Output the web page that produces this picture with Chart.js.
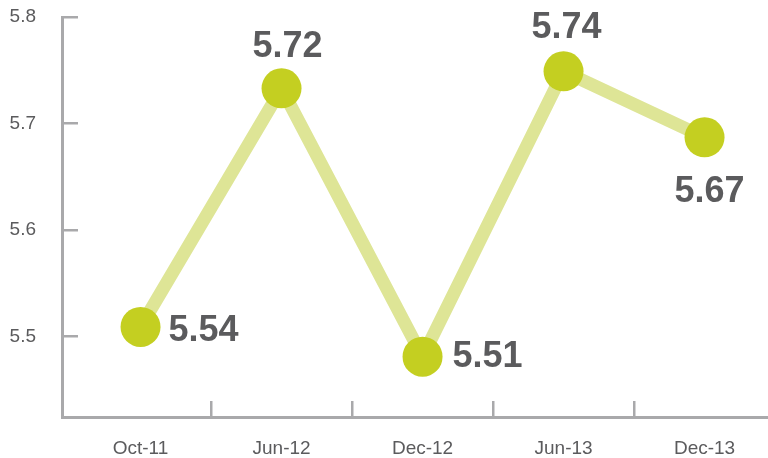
<!DOCTYPE html>
<html>
<head>
<meta charset="utf-8">
<script src="https://cdn.jsdelivr.net/npm/chart.js@4"></script>
<style>
  html, body { margin: 0; padding: 0; background: #fff; overflow: hidden; }
  canvas { display: block; }
</style>
</head>
<body>
<canvas id="chart" width="768" height="458"></canvas>
<script>
// data as it is drawn on the picture
const periods = ["Oct-11", "Jun-12", "Dec-12", "Jun-13", "Dec-13"];
const plotted = [5.509, 5.733, 5.481, 5.749, 5.687];
const shownValues = ["5.54", "5.72", "5.51", "5.74", "5.67"];
const yTicks = [5.5, 5.6, 5.7, 5.8];

// where each value label sits relative to its point
const labelAlign = ["left", "center", "left", "center", "center"];
const labelDx = [28, 6, 30, 3, 5];
const labelDy = [4, -41, 0, -43, 55];

const axisGrey = "#a9a9ab";
const textGrey = "#5b5b5d";

const valueLabels = {
    id: "valueLabels",
    afterDatasetsDraw(chart) {
        const ctx = chart.ctx;
        const meta = chart.getDatasetMeta(0);
        ctx.save();
        ctx.font = "bold 36px 'Liberation Sans', Arial, sans-serif";
        ctx.fillStyle = textGrey;
        ctx.textBaseline = "middle";
        meta.data.forEach((pt, i) => {
            ctx.textAlign = labelAlign[i];
            ctx.fillText(shownValues[i], pt.x + labelDx[i], pt.y + labelDy[i]);
        });
        ctx.restore();
    }
};

new Chart(document.getElementById("chart"), {
    type: "line",
    data: {
        datasets: [{
            data: plotted.map((v, i) => ({ x: i, y: v })),
            borderColor: "#dee596",
            borderWidth: 13,
            pointRadius: 20,
            pointHoverRadius: 20,
            pointBackgroundColor: "#c4cf21",
            pointBorderWidth: 0,
            tension: 0,
            clip: false
        }]
    },
    options: {
        responsive: false,
        animation: false,
        events: [],
        layout: { autoPadding: false, padding: { top: 17, left: 0, right: 0, bottom: 0 } },
        plugins: { legend: { display: false }, tooltip: { enabled: false } },
        scales: {
            x: {
                type: "linear",
                min: -0.557,
                max: 4.45,
                afterBuildTicks: (scale) => {
                    const t = [];
                    for (let v = 0; v <= 4; v += 0.5) t.push({ value: v });
                    scale.ticks = t;
                },
                afterFit: (scale) => {
                    scale.height = 41;
                    scale.paddingLeft = 0;
                    scale.paddingRight = 0;
                },
                border: { display: true, color: axisGrey, width: 3 },
                grid: {
                    drawOnChartArea: false,
                    tickLength: -16,
                    lineWidth: 2.5,
                    tickColor: (c) => Number.isInteger(c.tick.value) ? "rgba(0,0,0,0)" : axisGrey
                },
                ticks: {
                    autoSkip: false,
                    maxRotation: 0,
                    padding: 36,
                    color: textGrey,
                    font: { family: "'Liberation Sans', Arial, sans-serif", size: 19 },
                    callback: (v) => Number.isInteger(v) ? periods[v] : ""
                }
            },
            y: {
                min: 5.4244,
                max: 5.8,
                afterBuildTicks: (scale) => { scale.ticks = yTicks.map(v => ({ value: v })); },
                afterFit: (scale) => {
                    scale.width = 62;
                    scale.paddingTop = 0;
                    scale.paddingBottom = 0;
                },
                border: { display: true, color: axisGrey, width: 3 },
                grid: {
                    drawOnChartArea: false,
                    tickLength: -16,
                    lineWidth: 2.5,
                    tickColor: axisGrey
                },
                ticks: {
                    padding: 42,
                    color: textGrey,
                    font: { family: "'Liberation Sans', Arial, sans-serif", size: 19 },
                    callback: (v) => v.toFixed(1)
                }
            }
        }
    },
    plugins: [valueLabels]
});
</script>
</body>
</html>
